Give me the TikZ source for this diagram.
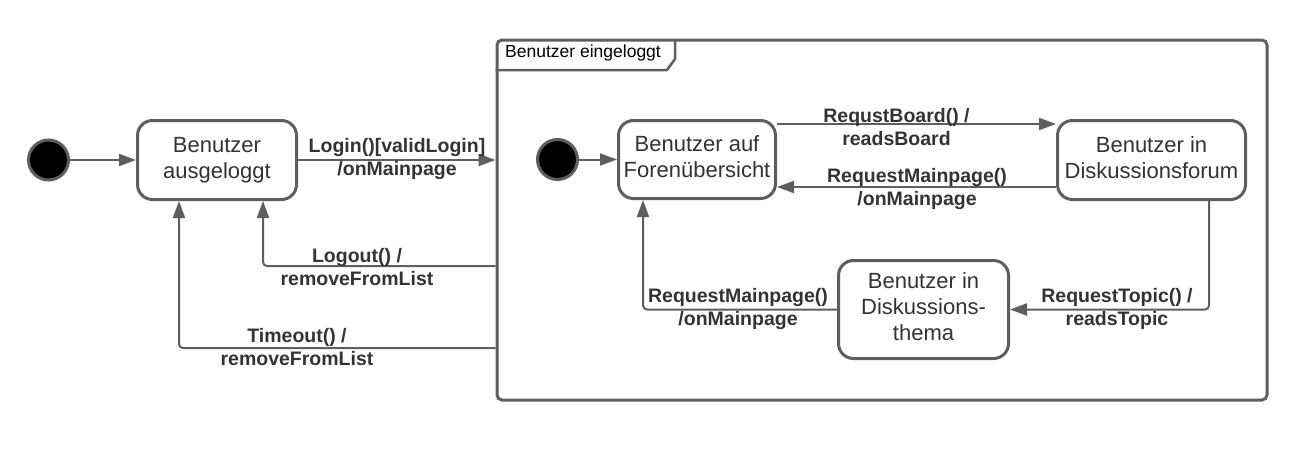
\documentclass[tikz,border=0pt]{standalone}
\usepackage{fontspec}
\setmainfont{Liberation Sans}
\usetikzlibrary{arrows.meta}
\definecolor{ln}{RGB}{94,94,94}
\definecolor{tx}{RGB}{51,51,51}
\begin{document}
\begin{tikzpicture}[x=1pt,y=-1pt,
  state/.style={draw=ln, line width=3pt, rounded corners=15pt, fill=white, text=tx,
    align=center, inner sep=0pt, font=\fontsize{22}{26}\selectfont},
  init/.style={circle, fill=black, draw=ln, line width=3pt, minimum size=40pt, inner sep=0pt},
  tr/.style={draw=ln, line width=2pt, rounded corners=4pt, -{Triangle[length=17pt,width=12pt]}},
  lbl/.style={text=tx, align=center, inner sep=0pt, font=\bfseries\fontsize{19.5}{23}\selectfont},
  frame/.style={draw=ln, line width=3pt, rounded corners=5pt, inner sep=0pt}
]
\useasboundingbox (0,0) rectangle (1294,474);

% composite state
\node[frame, minimum width=770pt, minimum height=360pt] (comp) at (882,220) {};
\draw[ln, line width=2.5pt, line join=round] (comp.west |- 0,70) -- (667,70) -- (675,59) -- (675,40);
\node[anchor=base west, inner sep=0pt, text=black, font=\fontsize{17.5}{21}\selectfont] (hdr) at (505,57) {Benutzer eingeloggt};

% outer states
\node[init] (i1) at (48.5,160) {};
\node[state, minimum width=159pt, minimum height=79pt] (s1) at (217,160) {Benutzer\strut\\ausgeloggt\strut};

% inner states
\node[init] (i2) at (557.5,159.5) {};
\node[state, minimum width=157pt, minimum height=78pt] (f1) at (697,159.5) {Benutzer auf\strut\\Forenübersicht\strut};
\node[state, minimum width=188pt, minimum height=79pt] (d1) at (1151.5,160) {Benutzer in\strut\\Diskussionsforum\strut};
\node[state, minimum width=170pt, minimum height=98pt] (t1) at (923.5,309.5) {Benutzer in\strut\\Diskussions-\strut\\thema\strut};

% outer transitions
\draw[tr] (i1) -- (s1);
\draw[tr] (s1.east) -- (s1.east -| comp.west);
\draw[tr] (comp.west |- 0,266) -| ([xshift=46pt]s1.south);
\draw[tr] (comp.west |- 0,348) -| ([xshift=-38pt]s1.south);

% inner transitions
\draw[tr] (i2) -- (f1);
\draw[tr] (f1.east |- 0,124) -- (d1.west |- 0,124);
\draw[tr] (d1.west |- 0,187) -- (f1.east |- 0,187);
\draw[tr] ([xshift=57.5pt]d1.south) |- (t1.east);
\draw[tr] (t1.west) -| ([xshift=-54pt]f1.south);

% labels
\node[lbl] (l1) at (397,159.4) {Login()[validLogin]\strut\\/onMainpage\strut};
\node[lbl] (l2) at (357,268.9) {Logout() /\strut\\removeFromList\strut};
\node[lbl] (l3) at (297,348.9) {Timeout() /\strut\\removeFromList\strut};
\node[lbl] (l4) at (896.5,128.9) {RequstBoard() /\strut\\readsBoard\strut};
\node[lbl] (l5) at (917,189.4) {RequestMainpage()\strut\\/onMainpage\strut};
\node[lbl] (l6) at (1117,308.9) {RequestTopic() /\strut\\readsTopic\strut};
\node[lbl] (l7) at (738,309.4) {RequestMainpage()\strut\\/onMainpage\strut};
\end{tikzpicture}
\end{document}
